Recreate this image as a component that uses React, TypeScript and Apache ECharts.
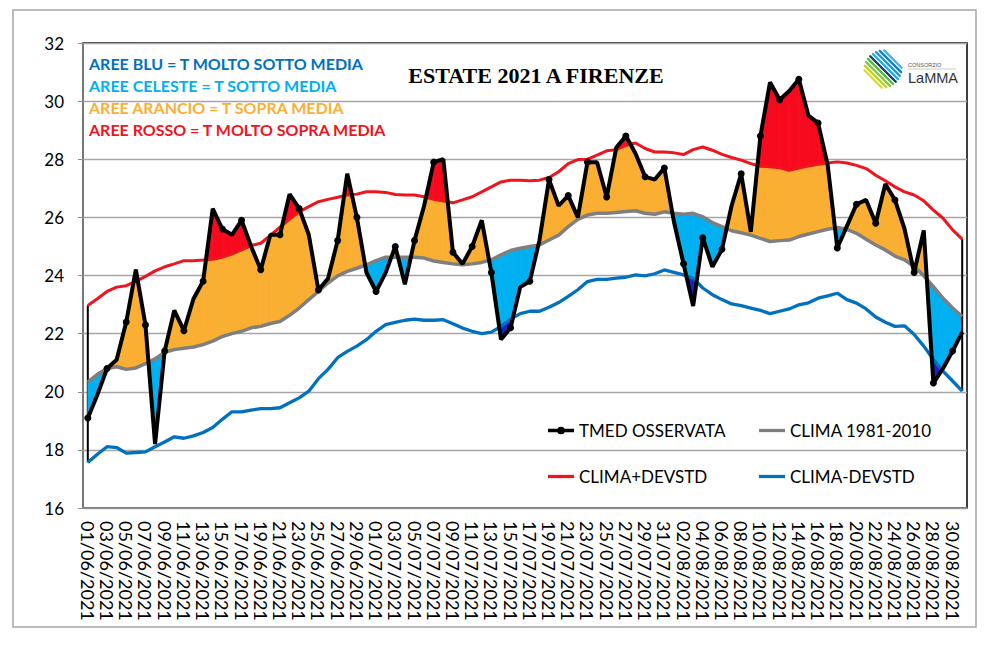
import React, { useEffect, useRef } from "react";
import * as echarts from "echarts";

// ---- categories (daily, 01/06/2021 .. 31/08/2021)
const months: [string, number][] = [["06", 30], ["07", 31], ["08", 31]];
const categories: string[] = [];
for (const [m, n] of months) {
  for (let d = 1; d <= n; d++) categories.push(`${String(d).padStart(2, "0")}/${m}/2021`);
}

// ---- series values
const tmedOsservata = [
  19.1, 19.9, 20.8, 21.1, 22.4, 24.2, 22.3, 18.2, 21.4, 22.8,
  22.1, 23.2, 23.8, 26.3, 25.6, 25.4, 25.9, 25.0, 24.2, 25.4,
  25.4, 26.8, 26.3, 25.4, 23.5, 23.9, 25.2, 27.5, 26.0, 24.1,
  23.45, 24.1, 25.0, 23.7, 25.2, 26.4, 27.9, 28.0, 24.8, 24.4,
  25.0, 25.9, 24.1, 21.8, 22.2, 23.6, 23.8, 25.2, 27.3, 26.4,
  26.75, 26.0, 27.9, 27.9, 26.7, 28.4, 28.8, 28.2, 27.4, 27.3,
  27.7, 25.85, 24.4, 22.95, 25.3, 24.3, 24.9, 26.4, 27.5, 25.5,
  28.8, 30.65, 30.05, 30.35, 30.75, 29.5, 29.25, 27.8, 24.95, 25.7,
  26.45, 26.6, 25.8, 27.15, 26.6, 25.6, 24.1, 25.55, 20.3, 20.8,
  21.4, 22.05,
];

const clima = [
  20.33, 20.6, 20.8, 20.86, 20.77, 20.82, 20.97, 21.13, 21.36, 21.45,
  21.5, 21.54, 21.62, 21.74, 21.9, 22.0, 22.08, 22.2, 22.25, 22.35,
  22.42, 22.63, 22.88, 23.17, 23.45, 23.74, 23.99, 24.14, 24.25, 24.37,
  24.51, 24.63, 24.63, 24.63, 24.63, 24.6, 24.5, 24.45, 24.4,
  24.37, 24.4, 24.45, 24.54, 24.71, 24.86, 24.94, 25.0, 25.05, 25.22,
  25.39, 25.68, 25.93, 26.08, 26.14, 26.14, 26.17, 26.2,
  26.23, 26.14, 26.11, 26.19, 26.14, 26.11, 26.14, 26.02, 25.82, 25.68,
  25.54, 25.47, 25.39, 25.28, 25.17, 25.2, 25.22, 25.34, 25.43,
  25.51, 25.59, 25.65, 25.59, 25.45, 25.25, 25.05, 24.88, 24.67, 24.54,
  24.31, 23.99, 23.62, 23.22, 22.88, 22.59,
];

const climaPiuDevstd = [
  22.97, 23.2, 23.45, 23.6, 23.65, 23.8, 23.97, 24.16, 24.3, 24.4,
  24.51, 24.51, 24.53, 24.56, 24.63, 24.74, 24.88, 25.03, 25.11, 25.38,
  25.66, 25.94, 26.19, 26.37, 26.54, 26.62, 26.69, 26.77, 26.8, 26.88,
  26.88, 26.86, 26.79, 26.77, 26.77, 26.71, 26.62, 26.56, 26.5,
  26.6, 26.71, 26.88, 27.05, 27.22, 27.28, 27.28, 27.26, 27.28, 27.37,
  27.57, 27.85, 27.99, 28.0, 28.14, 28.29, 28.33, 28.48,
  28.56, 28.37, 28.25, 28.25, 28.22, 28.16, 28.33, 28.42, 28.31, 28.17,
  28.06, 27.97, 27.85, 27.76, 27.74, 27.71, 27.62, 27.7, 27.77,
  27.83, 27.87, 27.91, 27.87, 27.79, 27.68, 27.45, 27.26, 27.05, 26.88,
  26.77, 26.57, 26.25, 25.97, 25.57, 25.25,
];

const climaMenoDevstd = [
  17.57, 17.85, 18.11, 18.08, 17.89, 17.91, 17.93, 18.11, 18.27, 18.45,
  18.4, 18.48, 18.6, 18.77, 19.05, 19.31, 19.31, 19.37, 19.42, 19.42,
  19.45, 19.62, 19.79, 20.02, 20.45, 20.77, 21.17, 21.39, 21.57, 21.79,
  22.08, 22.31, 22.39, 22.46, 22.5, 22.46, 22.46, 22.48, 22.34,
  22.19, 22.08, 22.0, 22.05, 22.25, 22.5, 22.69, 22.77, 22.77, 22.91,
  23.07, 23.28, 23.51, 23.79, 23.87, 23.87, 23.91, 23.94,
  24.02, 23.99, 24.06, 24.19, 24.11, 24.02, 23.9, 23.57, 23.34, 23.17,
  23.02, 22.96, 22.88, 22.8, 22.69, 22.77, 22.85, 22.99, 23.06,
  23.22, 23.3, 23.39, 23.17, 23.05, 22.85, 22.57, 22.39, 22.25, 22.27,
  21.97, 21.57, 21.11, 20.71, 20.37, 20.02,
];

const yTicks = { min: 16, max: 32, interval: 2 };

const titleText = "ESTATE 2021 A FIRENZE";
const noteLines: { text: string; color: string }[] = [
  { text: "AREE BLU = T MOLTO SOTTO MEDIA", color: "#0070C0" },
  { text: "AREE CELESTE = T SOTTO MEDIA", color: "#00B0F0" },
  { text: "AREE ARANCIO = T SOPRA MEDIA", color: "#FAAF35" },
  { text: "AREE ROSSO = T MOLTO SOPRA MEDIA", color: "#F0141E" },
];

const COL_ORANGE = "#FAAF32";
const COL_RED_FILL = "#F80A1E";
const COL_LIGHTBLUE = "#00B0F0";
const COL_DARKBLUE = "#2020C8";

const ICON_LINE = "path://M0,0h27v3.4H0z";
const ICON_LINE_DOT = "path://M0,3.3h27v3.4H0z M9.5,5a4,4 0 1,1 8,0a4,4 0 1,1 -8,0z";

function buildLogo(): any[] {
  const cx = 883, cy = 69, r = 19;
  const colors = ["#d9e021", "#b8d432", "#8cc63f", "#55b848", "#1b3a6b", "#29abe2", "#1e9bd7", "#1380c4", "#3fb4e8"];
  const out: any[] = [];
  const s = Math.SQRT1_2;
  colors.forEach((c, k) => {
    const d = 14 - k * 3.5;
    const L = Math.sqrt(Math.max(r * r - d * d, 0)) * 0.95;
    const mx = cx - d * s, my = cy + d * s;
    out.push({
      type: "line",
      shape: { x1: mx - L * s, y1: my - L * s, x2: mx + L * s, y2: my + L * s },
      style: { stroke: c, lineWidth: 2.4, lineCap: "round" },
    });
  });
  out.push({ type: "text", x: 908, y: 65, style: { text: "CONSORZIO", fontSize: 5.5, fontFamily: "Liberation Sans", fill: "#555", verticalAlign: "middle" } });
  out.push({ type: "line", shape: { x1: 908, y1: 69, x2: 956, y2: 69 }, style: { stroke: "#aaa", lineWidth: 0.6 } });
  out.push({ type: "text", x: 908, y: 78, style: { text: "LaMMA", fontSize: 14.5, fontFamily: "Liberation Sans", fill: "#333", verticalAlign: "middle" } });
  return out;
}

export default function App() {
  const ref = useRef<HTMLDivElement>(null);
  useEffect(() => {
    const el = ref.current!;
    const chart = echarts.init(el, null, { renderer: "svg" });
    const n = tmedOsservata.length;

    const renderFill = (params: any, api: any) => {
      const i = api.value(0) as number;
      const children: any[] = [];
      const yPix = (v: number) => api.coord([i, v])[1];
      const xA = api.coord([i, clima[i]])[0];
      if (i === 0 || i === n - 1) {
        children.push({
          type: "line",
          shape: { x1: xA, y1: yPix(climaPiuDevstd[i]), x2: xA, y2: yPix(climaMenoDevstd[i]) },
          style: { stroke: "#000", lineWidth: 2 },
        });
      }
      if (i < n - 1) {
        const xB = api.coord([i + 1, clima[i + 1]])[0];
        const O = [tmedOsservata[i], tmedOsservata[i + 1]];
        const C = [clima[i], clima[i + 1]];
        const U = [climaPiuDevstd[i], climaPiuDevstd[i + 1]];
        const L = [climaMenoDevstd[i], climaMenoDevstd[i + 1]];
        const at = (a: number[], t: number) => a[0] + (a[1] - a[0]) * t;
        const xt = (t: number) => xA + (xB - xA) * t;
        const ts = [0, 1];
        [C, U, L].forEach((b) => {
          const d0 = O[0] - b[0], d1 = O[1] - b[1];
          if (d0 * d1 < 0) ts.push(d0 / (d0 - d1));
        });
        ts.sort((a, b) => a - b);
        const band = (top: number[], bot: number[], ta: number, tb: number, fill: string) => {
          children.push({
            type: "polygon",
            shape: {
              points: [
                [xt(ta), yPix(at(top, ta))],
                [xt(tb), yPix(at(top, tb))],
                [xt(tb), yPix(at(bot, tb))],
                [xt(ta), yPix(at(bot, ta))],
              ],
            },
            style: { fill, stroke: fill, lineWidth: 0.8 },
          });
        };
        for (let k = 0; k < ts.length - 1; k++) {
          const ta = ts[k], tb = ts[k + 1];
          if (tb - ta < 1e-9) continue;
          const tm = (ta + tb) / 2;
          const o = at(O, tm), c = at(C, tm), u = at(U, tm), l = at(L, tm);
          if (o > c) {
            band(o < u ? O : U, C, ta, tb, COL_ORANGE);
            if (o > u) band(O, U, ta, tb, COL_RED_FILL);
          } else if (o < c) {
            band(C, o > l ? O : L, ta, tb, COL_LIGHTBLUE);
            if (o < l) band(L, O, ta, tb, COL_DARKBLUE);
          }
        }
      }
      return { type: "group", children };
    };

    const legendText = { fontFamily: "Lato", fontSize: 17, color: "#000" };

    const option: any = {
      animation: false,
      backgroundColor: "#fff",
      grid: {
        left: 83, right: 27, top: 43, bottom: 137,
        show: true, borderColor: "#000", borderWidth: 1.5, backgroundColor: "transparent",
      },
      legend: [
        {
          data: [
            { name: "TMED OSSERVATA", icon: ICON_LINE_DOT },
            { name: "CLIMA+DEVSTD", icon: ICON_LINE },
          ],
          orient: "vertical", left: 543, top: 417,
          itemWidth: 26, itemHeight: 14, itemGap: 29,
          textStyle: legendText,
        },
        {
          data: [
            { name: "CLIMA 1981-2010", icon: ICON_LINE },
            { name: "CLIMA-DEVSTD", icon: ICON_LINE },
          ],
          orient: "vertical", left: 754, top: 417,
          itemWidth: 26, itemHeight: 14, itemGap: 29,
          textStyle: legendText,
        },
      ],
      xAxis: {
        type: "category",
        data: categories,
        boundaryGap: true,
        axisLine: { lineStyle: { color: "#8c8c8c", width: 1.5 } },
        axisTick: { interval: 1, inside: true, length: 5, lineStyle: { color: "#8c8c8c", width: 1 } },
        axisLabel: { interval: 1, rotate: -90, margin: 13, fontFamily: "Lato", fontSize: 18, color: "#000" },
        splitLine: { show: false },
      },
      yAxis: {
        type: "value",
        min: yTicks.min, max: yTicks.max, interval: yTicks.interval,
        axisLine: { show: true, lineStyle: { color: "#8c8c8c", width: 1.5 } },
        axisTick: { show: true, length: 5, lineStyle: { color: "#8c8c8c" } },
        axisLabel: { margin: 19, fontFamily: "Lato", fontSize: 17, color: "#000" },
        splitLine: { lineStyle: { color: "#a6a6a6", width: 1.3 } },
      },
      graphic: [
        { type: "rect", shape: { x: 13, y: 10, width: 963, height: 617 }, style: { fill: "none", stroke: "#a6a6a6", lineWidth: 1.5 }, silent: true },
        {
          type: "text", x: 536, y: 75,
          style: { text: titleText, fontFamily: "Liberation Serif", fontWeight: "bold", fontSize: 22, fill: "#000", align: "center", verticalAlign: "middle" },
        },
        ...noteLines.map((l, k) => ({
          type: "text", x: 89, y: 63 + k * 22,
          style: { text: l.text, fontFamily: "Lato", fontWeight: "bold", fontSize: 16, fill: l.color, verticalAlign: "middle" },
        })),
        ...buildLogo(),
      ],
      series: [
        {
          name: "fill",
          type: "custom",
          z: 1,
          silent: true,
          renderItem: renderFill,
          encode: { x: 0, y: 1 },
          data: tmedOsservata.map((v, i) => [i, v]),
        },
        {
          name: "CLIMA 1981-2010", type: "line", data: clima, z: 3,
          symbol: "none", color: "#7f7f7f", lineStyle: { color: "#7f7f7f", width: 3.5 },
        },
        {
          name: "CLIMA+DEVSTD", type: "line", data: climaPiuDevstd, z: 3,
          symbol: "none", color: "#F0141E", lineStyle: { color: "#F0141E", width: 3 },
        },
        {
          name: "CLIMA-DEVSTD", type: "line", data: climaMenoDevstd, z: 3,
          symbol: "none", color: "#0070C0", lineStyle: { color: "#0070C0", width: 3.3 },
        },
        {
          name: "TMED OSSERVATA", type: "line", data: tmedOsservata, z: 5,
          symbol: "circle", symbolSize: 7, showSymbol: true, color: "#000",
          itemStyle: { color: "#000" }, lineStyle: { color: "#000", width: 4 },
        },
      ],
    };
    chart.setOption(option);
    return () => chart.dispose();
  }, []);
  return (
    <div
      ref={ref}
      style={{ position: "fixed", left: 0, top: 0, width: 994, height: 645, background: "#fff" }}
    />
  );
}
